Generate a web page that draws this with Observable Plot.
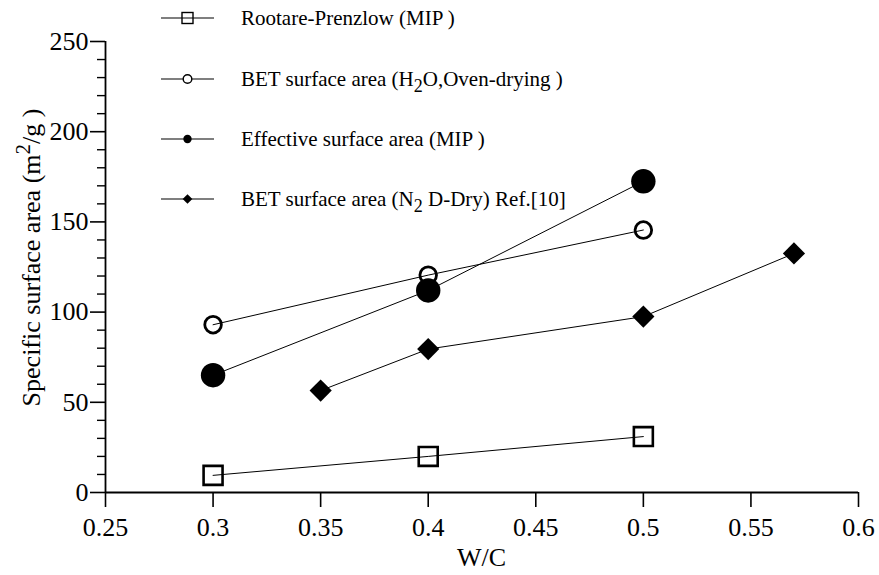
<!DOCTYPE html>
<html>
<head>
<meta charset="utf-8">
<script src="https://cdn.jsdelivr.net/npm/d3@7"></script>
<script src="https://cdn.jsdelivr.net/npm/@observablehq/plot@0.6"></script>
<style>
  html, body { margin: 0; padding: 0; background: #fff; }
  #chart { position: relative; width: 879px; height: 575px; }
  #chart svg, #chart svg text, #chart svg tspan { font-family: "Liberation Serif", "Times New Roman", serif !important; }
</style>
</head>
<body>
<div id="chart"></div>
<script>
// ---- data ----
const xTicks = [0.25, 0.3, 0.35, 0.4, 0.45, 0.5, 0.55, 0.6];
const xTickLabels = ["0.25", "0.3", "0.35", "0.4", "0.45", "0.5", "0.55", "0.6"];
const yTicks = [0, 50, 100, 150, 200, 250];
const yTickLabels = ["0", "50", "100", "150", "200", "250"];
const yMinorTicks = [10, 20, 30, 40, 60, 70, 80, 90, 110, 120, 130, 140, 160, 170, 180, 190, 210, 220, 230, 240];

const wcRP = [0.3, 0.4, 0.5];
const ssaRP = [9.5, 20, 31];          // Rootare-Prenzlow (MIP)
const wcH2O = [0.3, 0.4, 0.5];
const ssaH2O = [93, 120.5, 145.5];    // BET (H2O, oven-drying)
const wcEff = [0.3, 0.4, 0.5];
const ssaEff = [65, 112, 172.5];      // Effective surface area (MIP)
const wcN2 = [0.35, 0.4, 0.5, 0.57];
const ssaN2 = [56.5, 79.5, 97.5, 132.5]; // BET (N2 D-Dry) Ref.[10]

const legendLabels = [
  [["Rootare-Prenzlow (MIP )", ""]],
  [["BET surface area (H", ""], ["2", "sub"], ["O,Oven-drying )", ""]],
  [["Effective surface area (MIP )", ""]],
  [["BET surface area (N", ""], ["2", "sub"], [" D-Dry) Ref.[10]", ""]]
];
const legendSymbols = ["square", "circleOpen", "circleFilled", "diamond"];

// ---- build tables ----
const toRows = (xs, ys) => xs.map((x, i) => ({x, y: ys[i]}));
const rp = toRows(wcRP, ssaRP);
const h2o = toRows(wcH2O, ssaH2O);
const eff = toRows(wcEff, ssaEff);
const n2 = toRows(wcN2, ssaN2);

const W = 879, H = 575;
const mL = 105, mR = 21, mT = 41, mB = 83;
const fontFam = "Liberation Serif, Times New Roman, serif";

const plot = Plot.plot({
  width: W,
  height: H,
  marginLeft: mL,
  marginRight: mR,
  marginTop: mT,
  marginBottom: mB,
  style: {fontFamily: fontFam, fontSize: "26px", color: "black", background: "white"},
  x: {domain: [0.25, 0.6], label: null},
  y: {domain: [0, 250], label: null},
  marks: [
    Plot.axisX({ticks: xTicks, tickSize: 15, tickPadding: 10, strokeWidth: 1.6, tickFormat: d => xTickLabels[xTicks.indexOf(d)], label: null, fontSize: 26}),
    Plot.axisY({ticks: yTicks, tickSize: 15, tickPadding: 2, strokeWidth: 1.6, tickFormat: d => yTickLabels[yTicks.indexOf(d)], label: null, fontSize: 26}),
    Plot.axisY({ticks: yMinorTicks, tickSize: 8, strokeWidth: 1.4, tickFormat: () => "", label: null}),
    Plot.ruleY([0], {strokeWidth: 1.8}),
    Plot.ruleX([0.25], {strokeWidth: 1.8}),
    Plot.line(rp, {x: "x", y: "y", stroke: "black", strokeWidth: 1}),
    Plot.line(h2o, {x: "x", y: "y", stroke: "black", strokeWidth: 1}),
    Plot.line(eff, {x: "x", y: "y", stroke: "black", strokeWidth: 1}),
    Plot.line(n2, {x: "x", y: "y", stroke: "black", strokeWidth: 1}),
    Plot.dot(rp, {x: "x", y: "y", symbol: "square", r: 10.7, fill: "none", stroke: "black", strokeWidth: 2.6}),
    Plot.dot(h2o, {x: "x", y: "y", symbol: "circle", r: 8.3, fill: "none", stroke: "black", strokeWidth: 2.8}),
    Plot.dot(eff, {x: "x", y: "y", symbol: "circle", r: 12.2, fill: "black", stroke: "none"}),
    Plot.dot(n2, {x: "x", y: "y", symbol: "diamond2", r: 10, fill: "black", stroke: "none"})
  ]
});

document.getElementById("chart").appendChild(plot);

const svg = d3.select(plot);

// Y axis title with superscript
const yt = svg.append("text")
  .attr("transform", `translate(40,${(mT + H - mB) / 2 - 9}) rotate(-90)`)
  .attr("text-anchor", "middle")
  .attr("font-family", fontFam)
  .attr("font-size", 26)
  .attr("fill", "black");
yt.append("tspan").text("Specific surface area (m");
yt.append("tspan").attr("dy", "-0.5em").attr("font-size", 21).text("2");
yt.append("tspan").attr("dy", "0.4em").text("/g )");

// X axis title
svg.append("text")
  .attr("x", mL + (W - mL - mR) / 2)
  .attr("y", 566)
  .attr("text-anchor", "middle")
  .attr("font-family", fontFam)
  .attr("font-size", 26)
  .attr("fill", "black")
  .text("W/C");

// Legend
const legX0 = 161, legX1 = 214, legTextX = 241;
const legRows = [18, 79, 139, 199];
const lg = svg.append("g").attr("class", "legend").attr("text-anchor", "start");
legendSymbols.forEach((sym, i) => {
  const cy = legRows[i];
  const cx = (legX0 + legX1) / 2;
  lg.append("line").attr("x1", legX0).attr("x2", legX1).attr("y1", cy).attr("y2", cy)
    .attr("stroke", "black").attr("stroke-width", 1.2);
  if (sym === "square") {
    lg.append("rect").attr("x", cx - 5.5).attr("y", cy - 5.5).attr("width", 11).attr("height", 11)
      .attr("fill", "none").attr("stroke", "black").attr("stroke-width", 1.4);
  } else if (sym === "circleOpen") {
    lg.append("circle").attr("cx", cx).attr("cy", cy).attr("r", 4.3)
      .attr("fill", "white").attr("stroke", "black").attr("stroke-width", 1.4);
  } else if (sym === "circleFilled") {
    lg.append("circle").attr("cx", cx).attr("cy", cy).attr("r", 4.2).attr("fill", "black");
  } else {
    lg.append("path").attr("d", d3.symbol(d3.symbolDiamond2, 60)())
      .attr("transform", `translate(${cx},${cy})`).attr("fill", "black");
  }
  const t = lg.append("text").attr("x", legTextX).attr("y", cy + 7)
    .attr("text-anchor", "start")
    .attr("font-family", fontFam).attr("font-size", 21).attr("fill", "black");
  let shifted = false;
  legendLabels[i].forEach(([s, kind]) => {
    const ts = t.append("tspan").text(s);
    if (kind === "sub") { ts.attr("dy", 6).attr("font-size", 18); shifted = true; }
    else if (shifted) { ts.attr("dy", -6); shifted = false; }
  });
});
</script>
</body>
</html>
